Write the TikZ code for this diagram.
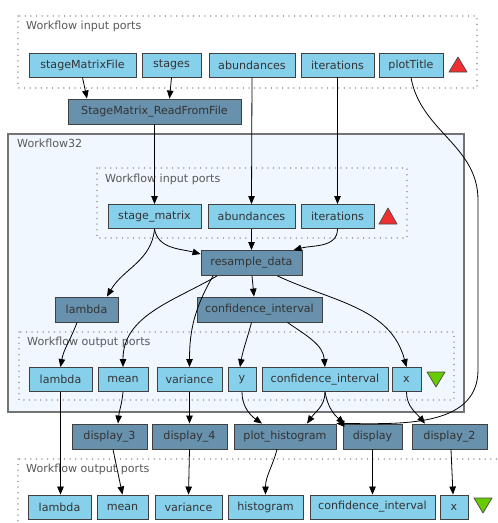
\documentclass[tikz,border=0pt]{standalone}
\usepackage{fontspec}
\setmainfont{DejaVu Sans}
\usetikzlibrary{arrows.meta}
\definecolor{portblue}{RGB}{135,208,236}
\definecolor{procblue}{RGB}{103,145,172}
\definecolor{wfback}{RGB}{240,247,255}
\definecolor{wfline}{RGB}{115,115,115}
\definecolor{warnred}{RGB}{240,48,48}
\definecolor{okgreen}{RGB}{102,204,0}
\begin{document}
\begin{tikzpicture}[x=1pt,y=-1pt,
  every node/.style={font=\fontsize{11.1}{13}\selectfont, text=black!80},
  port/.style={draw=black!75, fill=portblue, line width=0.9pt, inner sep=0pt, minimum height=24pt},
  proc/.style={draw=black!75, fill=procblue, line width=0.9pt, inner sep=0pt, minimum height=25pt},
  portbox/.style={draw=gray!75, line width=1.5pt, dash pattern=on 0.01pt off 5.6pt, line cap=round},
  boxlabel/.style={anchor=base west, inner sep=0pt, text=black!65},
  flow/.style={-{Triangle[length=8pt,width=6.5pt]}, line width=0.8pt},
  warn/.style={fill=warnred, draw=black!70, line width=0.7pt, line join=round},
  done/.style={fill=okgreen, draw=black!70, line width=0.7pt, line join=round}]
\useasboundingbox (0,0) rectangle (498,523);
\clip (0,0) rectangle (498,523);
\fill[white] (0,0) rectangle (498,523);
\draw[portbox] (18,16) rectangle (477,88);
\node[boxlabel] (inlabel) at (26,29) {Workflow input ports};
\node[port, minimum width=107pt] (smf) at (82.5,65) {stageMatrixFile};
\node[port, minimum width=59pt] (stg) at (171.5,65) {stages};
\node[port, minimum width=86pt] (abd) at (252,65) {abundances};
\node[port, minimum width=73pt] (itr) at (337.5,65) {iterations};
\node[port, minimum width=64pt] (ptl) at (411,65) {plotTitle};
\draw[warn] (449,72) -- (467,72) -- (458,57) -- cycle;
\node[proc, minimum width=173pt] (smr) at (154.5,111.5) {StageMatrix\_ReadFromFile};
\draw[fill=wfback, draw=wfline, line width=1.4pt] (8,134) rectangle (464,412);
\node[boxlabel] (wflabel) at (17,147) {Workflow32};
\draw[portbox] (97,168) rectangle (407,238);
\node[boxlabel] (winlabel) at (105,182) {Workflow input ports};
\node[port, minimum width=93pt] (sm) at (154.5,216.5) {stage\_matrix};
\node[port, minimum width=87pt] (abd2) at (251.5,216.5) {abundances};
\node[port, minimum width=73pt] (itr2) at (337.5,216.5) {iterations};
\draw[warn] (379,224) -- (397,224) -- (388,208) -- cycle;
\node[proc, minimum width=101pt] (rd) at (251.5,263) {resample\_data};
\node[proc, minimum width=63pt] (lam) at (86.5,309.5) {lambda};
\node[proc, minimum width=125pt] (ci) at (259.5,309.5) {confidence\_interval};
\draw[portbox] (19,332) rectangle (454,400);
\node[boxlabel] (woutlabel) at (27,345) {Workflow output ports};
\node[port, minimum width=63pt] (lamp) at (60.5,379.5) {lambda};
\node[port, minimum width=50pt] (meanp) at (123,379.5) {mean};
\node[port, minimum width=65pt] (varp) at (189.5,379.5) {variance};
\node[port, minimum width=28pt] (yp) at (242,379.5) {y};
\node[port, minimum width=126pt] (cip) at (325,379.5) {confidence\_interval};
\node[port, minimum width=29pt] (xp) at (406.5,379.5) {x};
\draw[done] (427,372) -- (445,372) -- (436,387) -- cycle;
\node[proc, minimum width=75pt] (ds3) at (109.5,436.5) {display\_3};
\node[proc, minimum width=75pt] (ds4) at (189.5,436.5) {display\_4};
\node[proc, minimum width=102pt] (ph) at (285,436.5) {plot\_histogram};
\node[proc, minimum width=59pt] (dsp) at (372.5,436.5) {display};
\node[proc, minimum width=75pt] (ds2) at (449.5,436.5) {display\_2};
\draw[portbox] (18,459) rectangle (506,530);
\node[boxlabel] (outlabel) at (26,472) {Workflow output ports};
\node[port, minimum width=63pt] (lamo) at (59.5,507) {lambda};
\node[port, minimum width=51pt] (meano) at (122.5,507) {mean};
\node[port, minimum width=67pt] (varo) at (188.5,507) {variance};
\node[port, minimum width=75pt] (hist) at (265.5,507) {histogram};
\node[port, minimum width=125pt] (cio) at (372.5,507) {confidence\_interval};
\node[port, minimum width=28pt] (xo) at (454,507) {x};
\draw[done] (474,498) -- (492,498) -- (483,513) -- cycle;
\draw[flow] (smf.south) -- ([xshift=-67.5pt]smr.north);
\draw[flow] (stg.south) -- ([xshift=15pt]smr.north);
\draw[flow] (smr.south) -- (sm.north);
\draw[flow] (abd.south) -- (abd2.north);
\draw[flow] (itr.south) -- (itr2.north);
\draw[flow] (ptl.south) to[out=-80,in=90] (478,200) -- (478,370) to[out=-90,in=0] (ph.north east);
\draw[flow] (sm.south) to[out=-80,in=165] (rd.170);
\draw[flow] (sm.south) to[out=-95,in=60] ([xshift=20.5pt]lam.north);
\draw[flow] (abd2.south) -- (rd.north);
\draw[flow] (itr2.south) to[out=-90,in=15] ([xshift=42pt]rd.north);
\draw[flow] ([xshift=0.5pt]rd.south) -- ([xshift=-5.5pt]ci.north);
\draw[flow] ([xshift=-34.5pt]rd.south) to[out=-150,in=90] (meanp.north);
\draw[flow] ([xshift=-38.5pt]rd.south) to[out=-120,in=90] (varp.north);
\draw[flow] ([xshift=26pt]rd.south) to[out=-25,in=105] (xp.north);
\draw[flow] ([xshift=-9.5pt]lam.south) to[out=-110,in=80] (lamp.north);
\draw[flow] ([xshift=-8pt]ci.south) to[out=-105,in=80] ([xshift=-2pt]yp.north);
\draw[flow] ([xshift=28pt]ci.south) to[out=-35,in=95] (cip.north);
\draw[flow] (lamp.south) -- ([xshift=1pt]lamo.north);
\draw[flow] (meanp.south) to[out=-95,in=85] ([xshift=8.5pt]ds3.north);
\draw[flow] (varp.south) -- (ds4.north);
\draw[flow] (yp.south) to[out=-90,in=145] ([xshift=-23pt]ph.north);
\draw[flow] (cip.south) to[out=-90,in=55] ([xshift=22pt]ph.north);
\draw[flow] (cip.south) to[out=-80,in=140] ([xshift=2pt]dsp.north west);
\draw[flow] (xp.south) to[out=-90,in=130] ([xshift=-24.5pt]ds2.north);
\draw[flow] ([xshift=3.5pt]ds3.south) -- (meano.north);
\draw[flow] (ds4.south) -- (varo.north);
\draw[flow] ([xshift=-8pt]ph.south) to[out=-105,in=90] (hist.north);
\draw[flow] (dsp.south) -- (cio.north);
\draw[flow] ([xshift=1.5pt]ds2.south) -- ([xshift=-1pt]xo.north);
\end{tikzpicture}
\end{document}
